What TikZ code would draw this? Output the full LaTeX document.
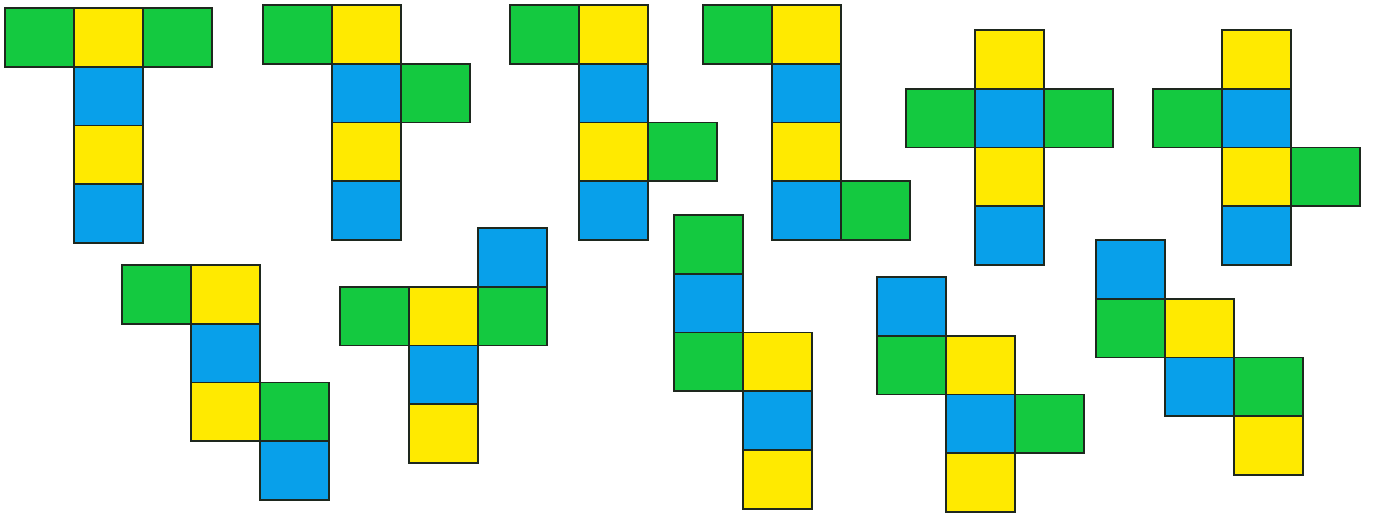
\documentclass[tikz,border=0pt]{standalone}
\definecolor{cg}{RGB}{20,201,64}
\definecolor{cy}{RGB}{255,234,0}
\definecolor{cb}{RGB}{8,160,234}
\definecolor{edge}{RGB}{30,40,30}
\tikzset{
  face/.style={draw=edge,line width=1.6pt,line join=miter},
  G/.style={face,fill=cg},
  Y/.style={face,fill=cy},
  B/.style={face,fill=cb}
}
\newcommand{\cubecell}[3]{\path[#3] (#1*69,#2*58.75) rectangle ++(69,58.75);}
\begin{document}
\begin{tikzpicture}[x=1pt,y=-1pt]
\useasboundingbox (0,0) rectangle (1380,516);
% net 1
\begin{scope}[shift={(5,8)}]
\cubecell{0}{0}{G}\cubecell{1}{0}{Y}\cubecell{2}{0}{G}
\cubecell{1}{1}{B}\cubecell{1}{2}{Y}\cubecell{1}{3}{B}
\end{scope}
% net 2
\begin{scope}[shift={(263,5)}]
\cubecell{0}{0}{G}\cubecell{1}{0}{Y}\cubecell{1}{1}{B}
\cubecell{2}{1}{G}\cubecell{1}{2}{Y}\cubecell{1}{3}{B}
\end{scope}
% net 3
\begin{scope}[shift={(510,5)}]
\cubecell{0}{0}{G}\cubecell{1}{0}{Y}\cubecell{1}{1}{B}
\cubecell{1}{2}{Y}\cubecell{2}{2}{G}\cubecell{1}{3}{B}
\end{scope}
% net 4
\begin{scope}[shift={(703,5)}]
\cubecell{0}{0}{G}\cubecell{1}{0}{Y}\cubecell{1}{1}{B}
\cubecell{1}{2}{Y}\cubecell{1}{3}{B}\cubecell{2}{3}{G}
\end{scope}
% net 5
\begin{scope}[shift={(906,30)}]
\cubecell{1}{0}{Y}\cubecell{0}{1}{G}\cubecell{1}{1}{B}
\cubecell{2}{1}{G}\cubecell{1}{2}{Y}\cubecell{1}{3}{B}
\end{scope}
% net 6
\begin{scope}[shift={(1153,30)}]
\cubecell{1}{0}{Y}\cubecell{0}{1}{G}\cubecell{1}{1}{B}
\cubecell{1}{2}{Y}\cubecell{2}{2}{G}\cubecell{1}{3}{B}
\end{scope}
% net 7
\begin{scope}[shift={(122,265)}]
\cubecell{0}{0}{G}\cubecell{1}{0}{Y}\cubecell{1}{1}{B}
\cubecell{1}{2}{Y}\cubecell{2}{2}{G}\cubecell{2}{3}{B}
\end{scope}
% net 8
\begin{scope}[shift={(340,228)}]
\cubecell{2}{0}{B}\cubecell{0}{1}{G}\cubecell{1}{1}{Y}
\cubecell{2}{1}{G}\cubecell{1}{2}{B}\cubecell{1}{3}{Y}
\end{scope}
% net 9
\begin{scope}[shift={(674,215)}]
\cubecell{0}{0}{G}\cubecell{0}{1}{B}\cubecell{0}{2}{G}
\cubecell{1}{2}{Y}\cubecell{1}{3}{B}\cubecell{1}{4}{Y}
\end{scope}
% net 10
\begin{scope}[shift={(877,277)}]
\cubecell{0}{0}{B}\cubecell{0}{1}{G}\cubecell{1}{1}{Y}
\cubecell{1}{2}{B}\cubecell{2}{2}{G}\cubecell{1}{3}{Y}
\end{scope}
% net 11
\begin{scope}[shift={(1096,240)}]
\cubecell{0}{0}{B}\cubecell{0}{1}{G}\cubecell{1}{1}{Y}
\cubecell{1}{2}{B}\cubecell{2}{2}{G}\cubecell{2}{3}{Y}
\end{scope}
\end{tikzpicture}
\end{document}
